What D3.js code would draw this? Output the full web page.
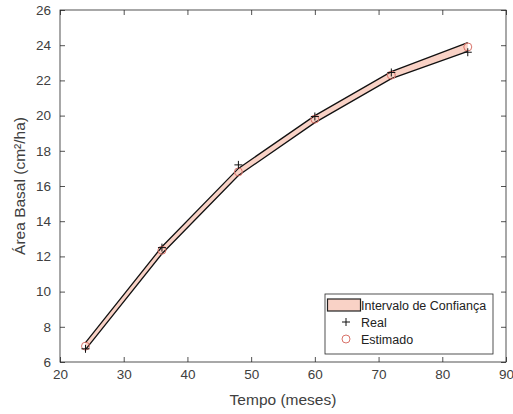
<!DOCTYPE html>
<html>
<head>
<meta charset="utf-8">
<script src="https://cdn.jsdelivr.net/npm/d3@7"></script>
<style>
  body { margin: 0; background: #fff; }
  text { font-family: "Liberation Sans", Arial, sans-serif; }
</style>
</head>
<body>
<div id="chart"></div>
<script>
// data
const meses = [24, 36, 48, 60, 72, 84];
const real = [6.75, 12.5, 17.2, 19.95, 22.45, 23.6];
const estimado = [6.9, 12.35, 16.8, 19.8, 22.3, 23.9];
const icInferior = [6.7, 12.15, 16.6, 19.6, 22.1, 23.65];
const icSuperior = [7.1, 12.55, 17.0, 20.0, 22.5, 24.15];
const xTicks = [20, 30, 40, 50, 60, 70, 80, 90];
const yTicks = [6, 8, 10, 12, 14, 16, 18, 20, 22, 24, 26];

const W = 513, H = 414;
const margin = {top: 10, right: 7, bottom: 52, left: 60};
const width = W - margin.left - margin.right,
  height = H - margin.top - margin.bottom;

const svg = d3.select("#chart").append("svg")
  .attr("width", W)
  .attr("height", H);

const g = svg.append("g")
  .attr("transform", `translate(${margin.left},${margin.top})`);

const x = d3.scaleLinear().domain([20, 90]).range([0, width]);
const y = d3.scaleLinear().domain([6, 26]).range([height, 0]);

const axisColor = "#262626";
const labelColor = "#404040";

// confidence band
const band = meses.map((m, i) => ({m: m, lo: icInferior[i], hi: icSuperior[i]}));
g.append("path")
  .datum(band)
  .attr("fill", "#f9d2c6")
  .attr("d", d3.area().x(d => x(d.m)).y0(d => y(d.lo)).y1(d => y(d.hi)));

const edge = d3.line().x(d => x(d[0])).y(d => y(d[1]));
g.append("path")
  .datum(meses.map((m, i) => [m, icInferior[i]]))
  .attr("fill", "none").attr("stroke", "#111").attr("stroke-width", 1.3)
  .attr("d", edge);
g.append("path")
  .datum(meses.map((m, i) => [m, icSuperior[i]]))
  .attr("fill", "none").attr("stroke", "#111").attr("stroke-width", 1.3)
  .attr("d", edge);

// estimated (circles)
g.selectAll(".est")
  .data(meses)
  .enter().append("circle")
  .attr("class", "est")
  .attr("cx", d => x(d))
  .attr("cy", (d, i) => y(estimado[i]))
  .attr("r", 4)
  .attr("fill", "none")
  .attr("stroke", "#d9736a")
  .attr("stroke-width", 1);

// real (plus)
g.selectAll(".real")
  .data(meses)
  .enter().append("path")
  .attr("class", "real")
  .attr("transform", (d, i) => `translate(${x(d)},${y(real[i])})`)
  .attr("d", "M-4,0H4M0,-4V4")
  .attr("stroke", "#111")
  .attr("stroke-width", 1);

// box + axes
g.append("rect")
  .attr("width", width).attr("height", height)
  .attr("fill", "none").attr("stroke", axisColor).attr("stroke-width", 0.8);

const xAxis = g.append("g")
  .attr("transform", `translate(0,${height})`)
  .call(d3.axisBottom(x).tickValues(xTicks).tickSizeInner(-5).tickSizeOuter(0).tickPadding(7));
const yAxis = g.append("g")
  .call(d3.axisLeft(y).tickValues(yTicks).tickSizeInner(-5).tickSizeOuter(0).tickPadding(9));
const xTop = g.append("g")
  .call(d3.axisTop(x).tickValues(xTicks).tickSizeInner(-5).tickSizeOuter(0).tickFormat(""));
const yRight = g.append("g")
  .attr("transform", `translate(${width},0)`)
  .call(d3.axisRight(y).tickValues(yTicks).tickSizeInner(-5).tickSizeOuter(0).tickFormat(""));

[xAxis, yAxis, xTop, yRight].forEach(a => {
  a.select(".domain").remove();
  a.selectAll("line").attr("stroke", axisColor).attr("stroke-width", 0.8);
  a.selectAll("text")
    .attr("fill", labelColor)
    .style("font-size", "13.5px")
    .style("font-family", "'Liberation Sans', Arial, sans-serif");
});

// axis titles
g.append("text")
  .attr("x", width / 2)
  .attr("y", height + 43)
  .attr("text-anchor", "middle")
  .attr("fill", labelColor)
  .style("font-size", "15.5px")
  .text("Tempo (meses)");

g.append("text")
  .attr("transform", `translate(${-35},${height / 2}) rotate(-90)`)
  .attr("text-anchor", "middle")
  .attr("fill", labelColor)
  .style("font-size", "15.5px")
  .text("Área Basal (cm²/ha)");

// legend
const leg = svg.append("g").attr("transform", "translate(325,294)");
leg.append("rect")
  .attr("width", 168).attr("height", 60)
  .attr("fill", "#fff").attr("stroke", axisColor).attr("stroke-width", 0.8);
leg.append("rect")
  .attr("x", 2.5).attr("y", 5).attr("width", 33).attr("height", 12)
  .attr("fill", "#f9d2c6").attr("stroke", "#222").attr("stroke-width", 1.2);
leg.append("path")
  .attr("transform", "translate(21,28)")
  .attr("d", "M-4,0H4M0,-4V4")
  .attr("stroke", "#111");
leg.append("circle")
  .attr("cx", 21).attr("cy", 45).attr("r", 4)
  .attr("fill", "none").attr("stroke", "#d9736a");
const legText = ["Intervalo de Confiança", "Real", "Estimado"];
leg.selectAll(".lt")
  .data(legText)
  .enter().append("text")
  .attr("class", "lt")
  .attr("x", 36)
  .attr("y", (d, i) => 15.5 + i * 17)
  .attr("fill", "#222")
  .style("font-size", "12.5px")
  .text(d => d);
</script>
</body>
</html>
